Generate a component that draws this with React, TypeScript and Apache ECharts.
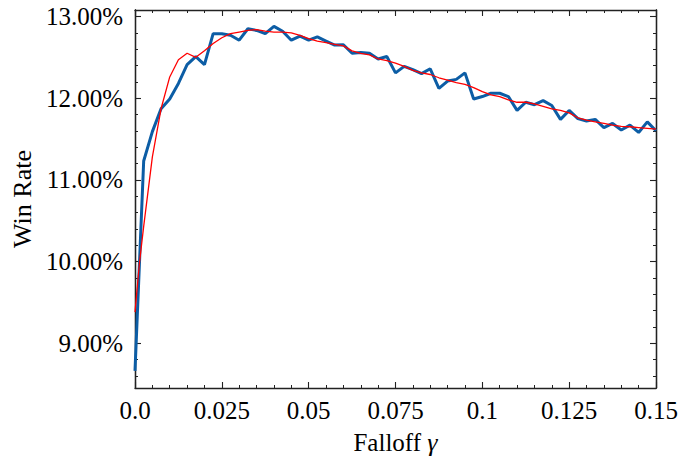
import React, { useEffect, useRef } from "react";
import * as echarts from "echarts";

const gamma = [
  0, 0.0025, 0.005, 0.0075, 0.01, 0.0125, 0.015, 0.0175, 0.02, 0.0225,
  0.025, 0.0275, 0.03, 0.0325, 0.035, 0.0375, 0.04, 0.0425, 0.045, 0.0475,
  0.05, 0.0525, 0.055, 0.0575, 0.06, 0.0625, 0.065, 0.0675, 0.07, 0.0725,
  0.075, 0.0775, 0.08, 0.0825, 0.085, 0.0875, 0.09, 0.0925, 0.095, 0.0975,
  0.1, 0.1025, 0.105, 0.1075, 0.11, 0.1125, 0.115, 0.1175, 0.12, 0.1225,
  0.125, 0.1275, 0.13, 0.1325, 0.135, 0.1375, 0.14, 0.1425, 0.145, 0.1475,
  0.15,
];

const winRate = [
  8.66, 11.23, 11.59, 11.87, 11.99, 12.18, 12.41, 12.51, 12.41, 12.79,
  12.79, 12.77, 12.71, 12.85, 12.83, 12.79, 12.88, 12.82, 12.71, 12.76,
  12.71, 12.75, 12.7, 12.65, 12.655, 12.55, 12.56, 12.55, 12.48, 12.51,
  12.31, 12.39, 12.35, 12.3, 12.36, 12.12, 12.21, 12.23, 12.31, 11.99,
  12.02, 12.06, 12.06, 12.02, 11.85, 11.95, 11.92, 11.97, 11.91, 11.74,
  11.85, 11.75, 11.72, 11.74, 11.64, 11.69, 11.61, 11.67, 11.58, 11.71,
  11.6,
];

const fitGamma = [
  0, 0.0013, 0.0025, 0.005, 0.0075, 0.01, 0.0125, 0.015, 0.0175, 0.02, 0.0225,
  0.025, 0.0275, 0.03, 0.0325, 0.035, 0.0375, 0.04, 0.0425, 0.045, 0.0475,
  0.05, 0.0525, 0.055, 0.0575, 0.06, 0.0625, 0.065, 0.0675, 0.07, 0.0725,
  0.075, 0.0775, 0.08, 0.0825, 0.085, 0.0875, 0.09, 0.0925, 0.095, 0.0975,
  0.1, 0.1025, 0.105, 0.1075, 0.11, 0.1125, 0.115, 0.1175, 0.12, 0.1225,
  0.125, 0.1275, 0.13, 0.1325, 0.135, 0.1375, 0.14, 0.1425, 0.145, 0.1475,
  0.15,
];

const fitRate = [
  9.38, 9.99, 10.43, 11.28, 11.87, 12.26, 12.47, 12.55, 12.5, 12.58, 12.67,
  12.74, 12.79, 12.81, 12.83, 12.84, 12.82, 12.81, 12.81, 12.8, 12.77,
  12.73, 12.7, 12.68, 12.66, 12.64, 12.58, 12.55, 12.53, 12.48, 12.46,
  12.43, 12.39, 12.34, 12.31, 12.29, 12.25, 12.22, 12.19, 12.17, 12.13,
  12.08, 12.04, 12.02, 11.98, 11.95, 11.95, 11.93, 11.9, 11.87, 11.85,
  11.82, 11.76, 11.73, 11.71, 11.69, 11.67, 11.655, 11.65, 11.64, 11.63,
  11.62,
];

const yMajorTicks = [9, 10, 11, 12, 13];
const yMinorTicks = [
  8.6, 8.8, 9.2, 9.4, 9.6, 9.8, 10.2, 10.4, 10.6, 10.8, 11.2, 11.4, 11.6,
  11.8, 12.2, 12.4, 12.6, 12.8,
];

const X_MIN = 0;
const X_MAX = 0.15;
const Y_MIN = 8.45;
const Y_MAX = 13.08;

const FONT = "Liberation Serif";
const FS = 25;
const FRAME = "#222";

export default function App() {
  const ref = useRef<HTMLDivElement>(null);

  useEffect(() => {
    if (!ref.current) return;
    const chart = echarts.init(ref.current, undefined, { renderer: "svg" });

    const xBase = (pos: "bottom" | "top", labels: boolean) => ({
      type: "value",
      position: pos,
      min: X_MIN,
      max: X_MAX,
      interval: 0.025,
      splitLine: { show: false },
      axisLine: { show: true, onZero: false, lineStyle: { color: FRAME, width: 1.3 } },
      axisTick: { show: true, inside: true, length: 6, lineStyle: { color: FRAME, width: 1.1 } },
      minorTick: { show: true, splitNumber: 5, length: 3, lineStyle: { color: FRAME, width: 1 } },
      axisLabel: {
        show: labels,
        color: "#000",
        fontFamily: FONT,
        fontSize: FS,
        margin: 10,
        formatter: (v: number) => (v === 0 ? "0.0" : String(parseFloat(v.toFixed(4)))),
      },
    });

    const yBase = (pos: "left" | "right", vals: number[], len: number, labels: boolean) => ({
      type: "value",
      position: pos,
      min: Y_MIN,
      max: Y_MAX,
      splitLine: { show: false },
      axisLine: { show: true, onZero: false, lineStyle: { color: FRAME, width: 1.3 } },
      axisTick: {
        show: true,
        inside: true,
        length: len,
        customValues: vals,
        lineStyle: { color: FRAME, width: len > 4 ? 1.1 : 1 },
      },
      axisLabel: {
        show: labels,
        customValues: vals,
        color: "#000",
        fontFamily: FONT,
        fontSize: FS,
        margin: 12,
        formatter: (v: number) => v.toFixed(2) + "%",
      },
    });

    chart.setOption({
      animation: false,
      backgroundColor: "#fff",
      grid: { left: 135, right: 25, top: 10, bottom: 74, containLabel: false },
      xAxis: [
        {
          ...xBase("bottom", true),
          name: "Falloff {g|γ}",
          nameLocation: "middle",
          nameGap: 41,
          nameTextStyle: {
            color: "#000",
            fontFamily: FONT,
            fontSize: FS,
            rich: { g: { fontFamily: FONT, fontSize: FS + 1, fontStyle: "italic", color: "#000" } },
          },
        },
        xBase("top", false),
      ],
      yAxis: [
        {
          ...yBase("left", yMajorTicks, 6, true),
          name: "Win Rate",
          nameLocation: "middle",
          nameRotate: 90,
          nameGap: 100,
          nameTextStyle: { color: "#000", fontFamily: FONT, fontSize: FS + 1 },
        },
        yBase("left", yMinorTicks, 3, false),
        yBase("right", yMajorTicks, 6, false),
        yBase("right", yMinorTicks, 3, false),
      ],
      series: [
        {
          type: "line",
          xAxisIndex: 0,
          yAxisIndex: 0,
          data: gamma.map((g, i) => [g, winRate[i]]),
          showSymbol: false,
          symbol: "none",
          lineStyle: { color: "#0C5DA5", width: 3 },
          z: 2,
        },
        {
          type: "line",
          xAxisIndex: 0,
          yAxisIndex: 0,
          data: fitGamma.map((g, i) => [g, fitRate[i]]),
          showSymbol: false,
          symbol: "none",
          lineStyle: { color: "#FF0000", width: 1.3 },
          z: 3,
        },
      ],
    });

    return () => chart.dispose();
  }, []);

  return (
    <div
      ref={ref}
      style={{ position: "fixed", left: 0, top: 0, width: 681, height: 462 }}
    />
  );
}
